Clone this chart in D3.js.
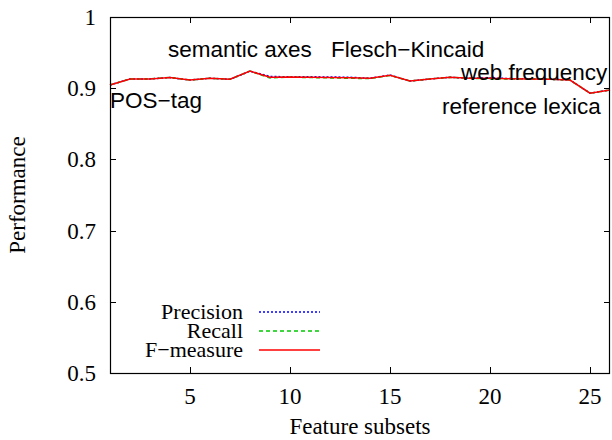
<!DOCTYPE html>
<html>
<head>
<meta charset="utf-8">
<script src="https://cdn.jsdelivr.net/npm/d3@7"></script>
<style>
  body { margin: 0; background: #fff; }
  svg { display: block; }
  .tick-label, .axis-title, .legend-label { font-family: "Liberation Serif", "Times New Roman", serif; font-size: 23px; fill: #000; }
  .legend-label { font-size: 22px; }
  .annot { font-family: "Liberation Sans", Arial, Helvetica, sans-serif; font-size: 22.5px; fill: #000; }
</style>
</head>
<body>
<svg id="chart" width="612" height="440"></svg>
<script>
const featureSubsets = d3.range(1, 27);

const precision = [0.9045, 0.913, 0.913, 0.915, 0.9115, 0.914, 0.9125, 0.924, 0.9165, 0.916,
                   0.916, 0.9158, 0.9153, 0.914, 0.9185, 0.910, 0.913, 0.9153, 0.914, 0.9145,
                   0.9135, 0.913, 0.9125, 0.9115, 0.893, 0.8975];
const recall    = [0.9045, 0.913, 0.913, 0.915, 0.9115, 0.914, 0.9125, 0.924, 0.9145, 0.9155,
                   0.915, 0.9145, 0.914, 0.9135, 0.918, 0.910, 0.913, 0.9153, 0.914, 0.913,
                   0.913, 0.913, 0.9125, 0.9115, 0.893, 0.8975];
const fmeasure  = [0.9045, 0.913, 0.913, 0.915, 0.9115, 0.914, 0.9125, 0.924, 0.9153, 0.9158,
                   0.9155, 0.9152, 0.9148, 0.914, 0.9183, 0.910, 0.913, 0.9153, 0.914, 0.9138,
                   0.9133, 0.913, 0.9125, 0.9115, 0.893, 0.8975];

const xTicks = [5, 10, 15, 20, 25];
const yTicks = [0.5, 0.6, 0.7, 0.8, 0.9, 1];

const annotations = [
  {text: 'semantic axes', x: 3.9, y: 0.944},
  {text: 'Flesch\u2212Kincaid', x: 12.05, y: 0.944},
  {text: 'POS\u2212tag', x: 1.0, y: 0.872},
  {text: 'web frequency', x: 18.55, y: 0.9115},
  {text: 'reference lexica', x: 17.6, y: 0.864}
];

const series = [
  {name: 'Precision', values: precision, color: '#0000ff', dash: '2,2'},
  {name: 'Recall', values: recall, color: '#00c800', dash: '4,3'},
  {name: 'F\u2212measure', values: fmeasure, color: '#ff0000', dash: null}
];

const margin = {left: 110, right: 2, top: 17, bottom: 67};
const width = 612, height = 440;
const svg = d3.select('#chart');

const x = d3.scaleLinear().domain([1, 26]).range([margin.left, width - margin.right]);
const y = d3.scaleLinear().domain([0.5, 1]).range([height - margin.bottom, margin.top]);

const tickLen = 6;
const axes = svg.append('g').attr('stroke', '#000').attr('stroke-width', 1);

// tick marks, mirrored on all sides
xTicks.forEach(t => {
  const px = Math.round(x(t)) + 0.5;
  axes.append('line').attr('x1', px).attr('x2', px).attr('y1', y(0.5)).attr('y2', y(0.5) - tickLen);
  axes.append('line').attr('x1', px).attr('x2', px).attr('y1', y(1)).attr('y2', y(1) + tickLen);
});
yTicks.forEach(t => {
  const py = Math.round(y(t)) + 0.5;
  axes.append('line').attr('x1', x(1)).attr('x2', x(1) + tickLen).attr('y1', py).attr('y2', py);
  axes.append('line').attr('x1', x(26)).attr('x2', x(26) - tickLen).attr('y1', py).attr('y2', py);
});

svg.selectAll('.xt').data(xTicks).enter().append('text')
  .attr('class', 'tick-label')
  .attr('x', d => x(d)).attr('y', y(0.5) + 31)
  .attr('text-anchor', 'middle').text(d => d);

svg.selectAll('.yt').data(yTicks).enter().append('text')
  .attr('class', 'tick-label')
  .attr('x', x(1) - 14).attr('y', d => y(d) + 8)
  .attr('text-anchor', 'end').text(d => d3.format('')(d));

svg.append('text').attr('class', 'axis-title')
  .attr('transform', `translate(25,${(y(0.5) + y(1)) / 2}) rotate(-90)`)
  .attr('text-anchor', 'middle').text('Performance');

svg.append('text').attr('class', 'axis-title')
  .attr('x', (x(1) + x(26)) / 2).attr('y', 434)
  .attr('text-anchor', 'middle').text('Feature subsets');

const line = d3.line()
  .x((d, i) => x(featureSubsets[i]))
  .y(d => y(d));

const plot = svg.append('g');
series.forEach(s => {
  plot.append('path')
    .attr('d', line(s.values))
    .attr('fill', 'none')
    .attr('stroke', s.color)
    .attr('stroke-width', 1.5)
    .attr('stroke-dasharray', s.dash);
});

// annotations
svg.selectAll('.annot').data(annotations).enter().append('text')
  .attr('class', 'annot')
  .attr('x', d => x(d.x)).attr('y', d => y(d.y))
  .text(d => d.text);

// legend
const legend = svg.append('g');
series.forEach((s, i) => {
  const ly = 312 + i * 19;
  legend.append('text').attr('class', 'legend-label')
    .attr('x', 243).attr('y', ly + 7)
    .attr('text-anchor', 'end').text(s.name);
  legend.append('line')
    .attr('x1', 259).attr('x2', 320).attr('y1', ly).attr('y2', ly)
    .attr('stroke', s.color).attr('stroke-width', 1.5)
    .attr('stroke-dasharray', s.dash);
});

// border
svg.append('rect')
  .attr('x', x(1) + 0.5).attr('y', y(1) + 0.5)
  .attr('width', x(26) - x(1) - 1).attr('height', y(0.5) - y(1))
  .attr('fill', 'none').attr('stroke', '#000').attr('stroke-width', 1.2);
</script>
</body>
</html>
